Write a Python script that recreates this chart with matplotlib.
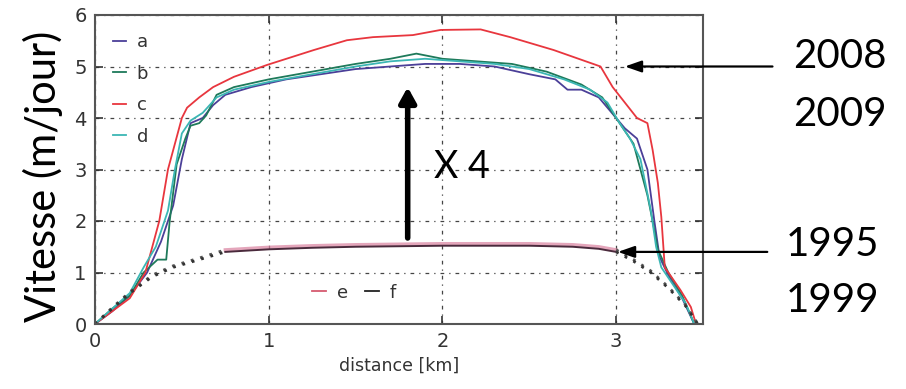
import matplotlib
matplotlib.use("Agg")
import matplotlib.pyplot as plt
from matplotlib.lines import Line2D
import numpy as np

# ---------------- data ----------------
a_x = [0, 0.1, 0.2, 0.3, 0.38, 0.45, 0.5, 0.55, 0.62, 0.68, 0.75, 0.9, 1.1, 1.3, 1.5, 1.7, 1.9, 2.1, 2.3, 2.5, 2.65, 2.72, 2.8, 2.9, 3.0, 3.05, 3.12, 3.18, 3.22, 3.25, 3.3, 3.38, 3.45]
a_y = [0, 0.25, 0.55, 1.0, 1.6, 2.3, 3.2, 3.9, 4.0, 4.25, 4.45, 4.6, 4.75, 4.85, 4.95, 5.0, 5.05, 5.05, 5.0, 4.85, 4.75, 4.55, 4.55, 4.4, 4.0, 3.8, 3.6, 3.0, 2.0, 1.3, 0.95, 0.5, 0.0]

b_x = [0, 0.1, 0.2, 0.28, 0.36, 0.41, 0.43, 0.47, 0.52, 0.55, 0.6, 0.64, 0.7, 0.8, 1.0, 1.25, 1.5, 1.7, 1.85, 2.0, 2.2, 2.4, 2.6, 2.8, 2.92, 3.0, 3.1, 3.14, 3.18, 3.21, 3.24, 3.3, 3.38, 3.45]
b_y = [0, 0.3, 0.55, 1.0, 1.25, 1.25, 2.0, 3.1, 3.6, 3.85, 3.9, 4.05, 4.45, 4.6, 4.75, 4.9, 5.05, 5.15, 5.25, 5.15, 5.1, 5.05, 4.9, 4.65, 4.4, 4.0, 3.5, 3.0, 2.5, 2.0, 1.45, 1.0, 0.55, 0.0]

c_x = [0, 0.1, 0.2, 0.29, 0.37, 0.42, 0.5, 0.53, 0.6, 0.68, 0.8, 0.99, 1.26, 1.45, 1.6, 1.83, 1.99, 2.22, 2.39, 2.64, 2.91, 2.98, 3.12, 3.18, 3.21, 3.24, 3.26, 3.28, 3.37, 3.43, 3.46]
c_y = [0, 0.25, 0.5, 1.0, 2.0, 3.0, 4.0, 4.2, 4.4, 4.6, 4.8, 5.03, 5.32, 5.51, 5.57, 5.61, 5.71, 5.72, 5.57, 5.32, 5.0, 4.6, 4.0, 3.9, 3.38, 2.74, 2.08, 1.1, 0.66, 0.33, 0.0]

d_x = [0, 0.1, 0.2, 0.28, 0.35, 0.42, 0.46, 0.5, 0.55, 0.62, 0.7, 0.8, 1.0, 1.25, 1.5, 1.7, 1.9, 2.1, 2.3, 2.5, 2.7, 2.85, 2.95, 3.02, 3.08, 3.14, 3.2, 3.23, 3.26, 3.32, 3.4, 3.45]
d_y = [0, 0.3, 0.6, 1.1, 1.5, 2.2, 3.0, 3.7, 3.95, 4.1, 4.4, 4.55, 4.7, 4.85, 5.0, 5.1, 5.15, 5.1, 5.05, 4.95, 4.75, 4.55, 4.3, 3.9, 3.6, 3.2, 2.2, 1.5, 1.1, 0.8, 0.4, 0.0]

ef_x = [0, 0.1, 0.2, 0.33, 0.45, 0.59, 0.75, 1.0, 1.25, 1.5, 1.75, 2.0, 2.25, 2.5, 2.75, 2.9, 3.0, 3.1, 3.2, 3.3, 3.4, 3.47]
e_y = [0, 0.32, 0.62, 0.95, 1.13, 1.27, 1.44, 1.49, 1.52, 1.54, 1.55, 1.56, 1.56, 1.56, 1.54, 1.5, 1.44, 1.25, 1.03, 0.72, 0.37, 0.0]
f_y = [0, 0.3, 0.6, 0.92, 1.1, 1.24, 1.40, 1.45, 1.48, 1.5, 1.51, 1.52, 1.52, 1.52, 1.5, 1.46, 1.40, 1.22, 1.0, 0.7, 0.35, 0.0]
ef_measured = (0.75, 3.0)

x_ticks = [0, 1, 2, 3]
y_ticks = [0, 1, 2, 3, 4, 5, 6]

side_labels = ["2008", "2009", "1995", "1999"]

# ---------------- figure ----------------
W, H = 906, 389
fig = plt.figure(figsize=(W / 100, H / 100), dpi=100)
ax = fig.add_axes([95 / W, 1 - 324 / H, (703 - 95) / W, (324 - 15) / H])

col_a = "#4b3f98"
col_b = "#1e7a5a"
col_c = "#e8363e"
col_d = "#3bb6b4"
col_e = "#d9809f"
col_f = "#4a2a3c"

la, = ax.plot(a_x, a_y, color=col_a, lw=1.3)
lb, = ax.plot(b_x, b_y, color=col_b, lw=1.3)
lc, = ax.plot(c_x, c_y, color=col_c, lw=1.3)
ld, = ax.plot(d_x, d_y, color=col_d, lw=1.3)

ef_x_arr = np.array(ef_x)
m = (ef_x_arr >= ef_measured[0]) & (ef_x_arr <= ef_measured[1])
ax.plot(ef_x_arr[m], np.array(e_y)[m], color=col_e, lw=2.4, alpha=0.7)
ax.plot(ef_x_arr[m], np.array(f_y)[m], color=col_f, lw=1.4)
left = ef_x_arr <= ef_measured[0]
right = ef_x_arr >= ef_measured[1]
for msk in (left, right):
    ax.plot(ef_x_arr[msk], np.array(e_y)[msk], color="#555555", lw=2, ls=(0, (1, 2.5)))
    ax.plot(ef_x_arr[msk], np.array(f_y)[msk], color="#333333", lw=2, ls=(0, (1, 2.5)))

ax.set_xlim(0, 3.5)
ax.set_ylim(0, 6)
ax.set_xticks(x_ticks)
ax.set_yticks(y_ticks)
ax.tick_params(direction="in", length=6, width=1.2, top=True, right=True,
               labelsize=14, colors="#333333", pad=6)
ax.grid(True, color="#444444", lw=0.9, ls=(0, (3, 4, 1, 4)))
for s in ax.spines.values():
    s.set_color("#555555")
    s.set_linewidth(1.5)

ax.set_xlabel("distance [km]", fontsize=12.5, color="#333333", labelpad=4)

leg1 = ax.legend([la, lb, lc, ld], ["a", "b", "c", "d"], loc="upper left",
                 frameon=False, fontsize=13, handlelength=0.7, handletextpad=0.6,
                 labelspacing=0.75, borderaxespad=0.6, labelcolor="#333333")
ax.add_artist(leg1)
he = Line2D([], [], color="#d65a70", lw=1.3)
hf = Line2D([], [], color="#222222", lw=1.3)
ax.legend([he, hf], ["e", "f"], loc="lower left", bbox_to_anchor=(0.33, 0.02),
          frameon=False, fontsize=13, handlelength=0.8, handletextpad=0.6,
          ncol=2, columnspacing=0.9, labelcolor="#333333")

big = ["Lato", "DejaVu Sans"]
fig.text(43 / W, 1 - 176 / H, "Vitesse (m/jour)", rotation=90, fontsize=30,
         family=big, ha="center", va="center")

# vertical arrow X4
ax.annotate("", xy=(1.80, 4.6), xytext=(1.80, 1.67),
            arrowprops=dict(arrowstyle="-|>,head_width=0.5,head_length=0.9",
                            lw=4, color="black", shrinkA=0, shrinkB=0))
ax.text(1.95, 3.05, "X 4", fontsize=27, family=big, ha="left", va="center")

# horizontal arrows to side labels
ax.annotate("", xy=(3.05, 5.0), xytext=(3.9, 5.0), annotation_clip=False,
            arrowprops=dict(arrowstyle="-|>,head_width=0.35,head_length=1.0",
                            lw=1.6, color="black", shrinkA=0, shrinkB=0))
ax.annotate("", xy=(3.01, 1.40), xytext=(3.87, 1.40), annotation_clip=False,
            arrowprops=dict(arrowstyle="-|>,head_width=0.35,head_length=1.0",
                            lw=1.6, color="black", shrinkA=0, shrinkB=0))

ys = [57, 115, 245, 300]
xs = [840, 840, 832, 832]
for t, yy, xx in zip(side_labels, ys, xs):
    fig.text(xx / W, 1 - yy / H, t, fontsize=29, family=big, ha="center", va="center")

fig.savefig("out.png", dpi=100)
